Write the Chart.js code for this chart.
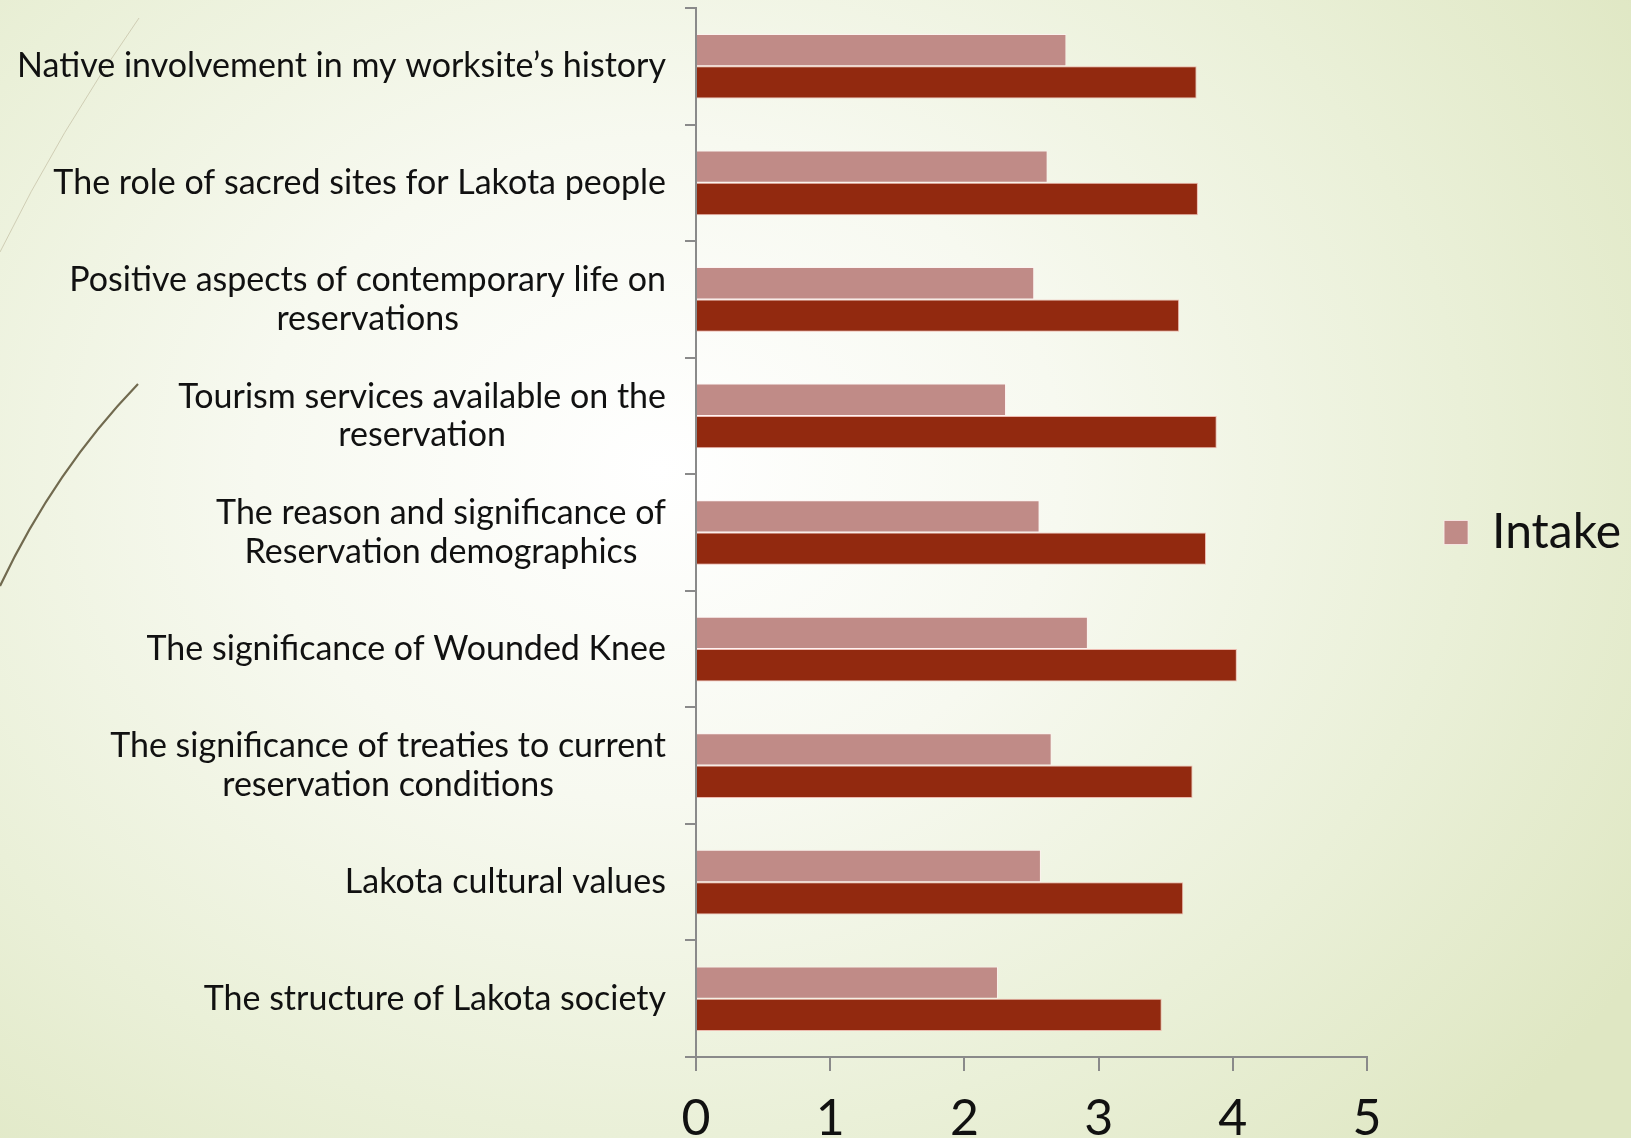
<!DOCTYPE html>
<html><head><meta charset="utf-8">
<script src="https://cdn.jsdelivr.net/npm/chart.js@4.4.1/dist/chart.umd.min.js"></script>
<style>
html,body{margin:0;padding:0;width:1631px;height:1138px;overflow:hidden;}
body{background: radial-gradient(ellipse 1150px 950px at 660px 470px, #ffffff 0%, #f7f9f0 35%, #eaf0d8 70%, #dfe7c3 100%);}
#wrap{position:relative;width:1631px;height:1138px;}
canvas{display:block;}
</style></head><body>
<div id="wrap"><canvas id="c" width="1631" height="1138"></canvas></div>
<script>
const categories = [
  ["Native involvement in my worksite’s history"],
  ["The role of sacred sites for Lakota people"],
  ["Positive aspects of contemporary life on", "reservations"],
  ["Tourism services available on the", "reservation"],
  ["The reason and significance of", "Reservation demographics"],
  ["The significance of Wounded Knee"],
  ["The significance of treaties to current", "reservation conditions"],
  ["Lakota cultural values"],
  ["The structure of Lakota society"]
];
const seriesNames = ["Intake", "Exit"];
const intakeValues = [2.76, 2.62, 2.52, 2.31, 2.56, 2.92, 2.65, 2.57, 2.25];
const exitValues   = [3.73, 3.74, 3.60, 3.88, 3.80, 4.03, 3.70, 3.63, 3.47];
const xTickValues = [0, 1, 2, 3, 4, 5];

const FONT = "Lato, 'Open Sans', sans-serif";
const AXIS_COLOR = '#8a8a8a';

const decoPlugin = {
  id: 'deco',
  beforeDraw(chart) {
    const ctx = chart.ctx;
    ctx.save();
    ctx.strokeStyle = 'rgba(200,196,170,0.8)';
    ctx.lineWidth = 1;
    ctx.beginPath();
    ctx.moveTo(0, 252);
    ctx.quadraticCurveTo(60, 130, 139, 18);
    ctx.stroke();
    ctx.strokeStyle = '#716a4f';
    ctx.lineWidth = 2.2;
    ctx.beginPath();
    ctx.moveTo(0, 586);
    ctx.quadraticCurveTo(55, 470, 138, 384);
    ctx.stroke();
    ctx.restore();
  }
};

const yLabelPlugin = {
  id: 'ylabels',
  afterDraw(chart) {
    const ctx = chart.ctx;
    const ys = chart.scales.y;
    const right = ys.right - 30;
    const lh = 38.5;
    ctx.save();
    ctx.font = "34px " + FONT;
    ctx.fillStyle = '#111111';
    ctx.textAlign = 'center';
    ctx.textBaseline = 'middle';
    categories.forEach((lines, i) => {
      const cy = ys.getPixelForValue(i);
      const w = Math.max(...lines.map(l => ctx.measureText(l).width));
      const cx = right - w / 2;
      const y0 = cy - (lines.length - 1) * lh / 2;
      lines.forEach((l, j) => ctx.fillText(l, cx, y0 + j * lh));
    });
    ctx.restore();
  }
};

new Chart(document.getElementById('c'), {
  type: 'bar',
  data: {
    labels: categories,
    datasets: [
      { label: seriesNames[0], data: intakeValues, backgroundColor: '#c08b87', borderColor: 'rgba(255,240,240,0.75)', borderWidth: 1 },
      { label: seriesNames[1], data: exitValues, backgroundColor: '#92290f', borderColor: 'rgba(235,170,160,0.8)', borderWidth: 1 }
    ]
  },
  options: {
    responsive: false,
    devicePixelRatio: 1,
    animation: false,
    indexAxis: 'y',
    layout: { padding: { top: 8, right: 0, left: 0, bottom: 0 } },
    categoryPercentage: 0.555,
    barPercentage: 1.0,
    scales: {
      x: {
        type: 'linear', min: 0, max: 5,
        afterBuildTicks: (s) => { s.ticks = xTickValues.map(v => ({ value: v })); },
        ticks: { font: { family: FONT, size: 50 }, color: '#111111', padding: 18 },
        grid: { drawOnChartArea: false, tickLength: 14, color: AXIS_COLOR, lineWidth: 2 },
        border: { color: AXIS_COLOR, width: 2 },
        afterFit: (s) => { s.height = 81; }
      },
      y: {
        type: 'category',
        ticks: { display: false },
        grid: { drawOnChartArea: false, tickLength: 11, color: AXIS_COLOR, lineWidth: 2, offset: true },
        border: { color: AXIS_COLOR, width: 2 },
        afterFit: (s) => { s.width = 696; }
      }
    },
    plugins: {
      legend: {
        position: 'right',
        align: 'center',
        fullSize: false,
        labels: {
          boxWidth: 24, boxHeight: 24,
          font: { family: FONT, size: 48 },
          color: '#111111',
          padding: 77,
          filter: (item) => item.datasetIndex === 0
        }
      },
      tooltip: { enabled: false }
    }
  },
  plugins: [decoPlugin, yLabelPlugin]
});
</script>
</body></html>
